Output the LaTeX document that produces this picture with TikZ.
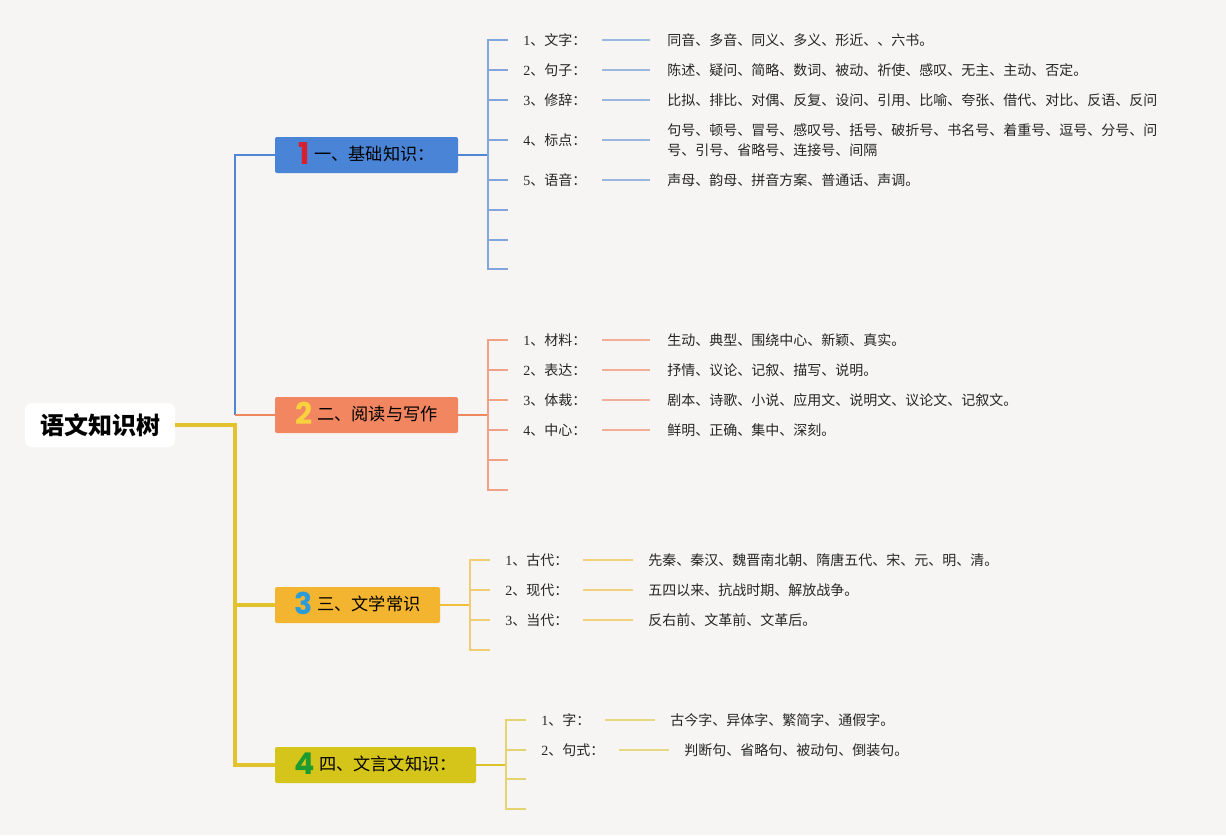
\documentclass[tikz,border=0pt]{standalone}
\usepackage{fontspec}
\setmainfont{Noto Sans CJK SC}
\newfontfamily\numfont{Liberation Serif}
\newfontfamily\bignum{Poppins}
\definecolor{bgc}{HTML}{F6F5F4}
\definecolor{boxA}{HTML}{4A84D6}
\definecolor{lineA}{HTML}{5087D5}
\definecolor{tickA}{HTML}{9BB7E0}
\definecolor{brkA}{HTML}{82A6DC}
\definecolor{boxB}{HTML}{F28660}
\definecolor{lineB}{HTML}{F0875E}
\definecolor{tickB}{HTML}{F3AE97}
\definecolor{brkB}{HTML}{F1A286}
\definecolor{boxC}{HTML}{F3B52F}
\definecolor{lineC}{HTML}{F2BE3C}
\definecolor{tickC}{HTML}{F3D27E}
\definecolor{brkC}{HTML}{F0CC72}
\definecolor{boxD}{HTML}{D5C41A}
\definecolor{lineD}{HTML}{D9C52A}
\definecolor{tickD}{HTML}{E9D882}
\definecolor{brkD}{HTML}{E5D270}
\definecolor{ymain}{HTML}{E2C22D}
\definecolor{numA}{HTML}{D71F2E}
\definecolor{numB}{HTML}{F7D23E}
\definecolor{numC}{HTML}{2C9BDA}
\definecolor{numD}{HTML}{1E9B2E}
\newcommand\mkrow[9]{%
  \node[lab] (l#1) at (#3,#2) {#4};
  \node[txt] (t#1) at (#7,#2) {#8};
  \coordinate (p#1) at (#5,#2);
  \coordinate (q#1) at (#6,#2);
  \draw[#9, line width=1.1pt] (p#1) -- (q#1);
}
\newcommand\dig[2]{\raisebox{-3pt}{\smash{\bignum\bfseries\fontsize{22.5pt}{22pt}\selectfont\color{#1}#2}}\hspace{3.5pt}}
\begin{document}
\begin{tikzpicture}[x=0.75pt,y=-0.75pt,
  rootbox/.style={fill=white, rounded corners=5pt, minimum width=112.5pt, minimum height=33pt, inner sep=0pt, font=\fontsize{18pt}{20pt}\selectfont\bfseries},
  branch/.style={rounded corners=1.5pt, minimum height=27pt, inner sep=0pt, font=\fontsize{12.9pt}{14pt}\selectfont},
  lab/.style={anchor=west, inner sep=0pt, font=\fontsize{10.5pt}{12pt}\selectfont, text=black!85},
  txt/.style={anchor=west, inner sep=0pt, align=left, font=\fontsize{10.5pt}{15pt}\selectfont, text=black!85},
  tk/.style={line width=1.1pt},
]
\fill[bgc] (0,0) rectangle (1226,835);
\useasboundingbox (0,0) rectangle (1226,835);

% root and branches
\node[rootbox] (root) at (100,425) {语文知识树};
\node[branch, fill=boxA, minimum width=137.25pt] (b1) at (366.5,155) {\dig{numA}{1}一、基础知识：};
\node[branch, fill=boxB, minimum width=137.25pt] (b2) at (366.5,415) {\dig{numB}{2}二、阅读与写作};
\node[branch, fill=boxC, minimum width=123.75pt] (b3) at (357.5,605) {\dig{numC}{3}三、文学常识};
\node[branch, fill=boxD, minimum width=150.75pt] (b4) at (375.5,765) {\dig{numD}{4}四、文言文知识：};

% main connectors
\coordinate (m) at (235,425);
\coordinate (m2) at (235,415);
\draw[lineA, line width=1.6pt] (m2) |- (b1.west);
\draw[lineB, line width=1.6pt] (m2) -- (b2.west);
\draw[ymain, line width=2.4pt] (root.east) -- (m) |- (b4.west);
\draw[ymain, line width=2.4pt] (m |- b3) -- (b3.west);

% ---------- section 1
\coordinate (j1) at (488,155);
\draw[lineA, line width=1.4pt] (b1.east) -- (j1);
\foreach \n/\yy in {1/40,2/70,3/100,4/140,5/180,6/210,7/240,8/269}
  \coordinate (k1\n) at (508,\yy);
\draw[brkA, tk] (k11) -| (j1 |- k18) -- (k18);
\foreach \n in {2,...,7} \draw[brkA, tk] (j1 |- k1\n) -- (k1\n);
\mkrow{11}{40}{523}{{\numfont 1}、文字：}{602}{650}{667}{同音、多音、同义、多义、形近、、六书。}{tickA}
\mkrow{12}{70}{523}{{\numfont 2}、句子：}{602}{650}{667}{陈述、疑问、简略、数词、被动、祈使、感叹、无主、主动、否定。}{tickA}
\mkrow{13}{100}{523}{{\numfont 3}、修辞：}{602}{650}{667}{比拟、排比、对偶、反复、设问、引用、比喻、夸张、借代、对比、反语、反问}{tickA}
\mkrow{14}{140}{523}{{\numfont 4}、标点：}{602}{650}{667}{句号、顿号、冒号、感叹号、括号、破折号、书名号、着重号、逗号、分号、问\\号、引号、省略号、连接号、间隔}{tickA}
\mkrow{15}{180}{523}{{\numfont 5}、语音：}{602}{650}{667}{声母、韵母、拼音方案、普通话、声调。}{tickA}

% ---------- section 2
\coordinate (j2) at (488,415);
\draw[lineB, line width=1.4pt] (b2.east) -- (j2);
\foreach \n/\yy in {1/340,2/370,3/400,4/430,5/460,6/490}
  \coordinate (k2\n) at (508,\yy);
\draw[brkB, tk] (k21) -| (j2 |- k26) -- (k26);
\foreach \n in {2,...,5} \draw[brkB, tk] (j2 |- k2\n) -- (k2\n);
\mkrow{21}{340}{523}{{\numfont 1}、材料：}{602}{650}{667}{生动、典型、围绕中心、新颖、真实。}{tickB}
\mkrow{22}{370}{523}{{\numfont 2}、表达：}{602}{650}{667}{抒情、议论、记叙、描写、说明。}{tickB}
\mkrow{23}{400}{523}{{\numfont 3}、体裁：}{602}{650}{667}{剧本、诗歌、小说、应用文、说明文、议论文、记叙文。}{tickB}
\mkrow{24}{430}{523}{{\numfont 4}、中心：}{602}{650}{667}{鲜明、正确、集中、深刻。}{tickB}

% ---------- section 3
\coordinate (j3) at (470,605);
\draw[lineC, line width=1.4pt] (b3.east) -- (j3);
\foreach \n/\yy in {1/560,2/590,3/620,4/650}
  \coordinate (k3\n) at (490,\yy);
\draw[brkC, tk] (k31) -| (j3 |- k34) -- (k34);
\foreach \n in {2,3} \draw[brkC, tk] (j3 |- k3\n) -- (k3\n);
\mkrow{31}{560}{505}{{\numfont 1}、古代：}{583}{633}{648}{先秦、秦汉、魏晋南北朝、隋唐五代、宋、元、明、清。}{tickC}
\mkrow{32}{590}{505}{{\numfont 2}、现代：}{583}{633}{648}{五四以来、抗战时期、解放战争。}{tickC}
\mkrow{33}{620}{505}{{\numfont 3}、当代：}{583}{633}{648}{反右前、文革前、文革后。}{tickC}

% ---------- section 4
\coordinate (j4) at (506,765);
\draw[lineD, line width=1.4pt] (b4.east) -- (j4);
\foreach \n/\yy in {1/720,2/750,3/779,4/809}
  \coordinate (k4\n) at (526,\yy);
\draw[brkD, tk] (k41) -| (j4 |- k44) -- (k44);
\foreach \n in {2,3} \draw[brkD, tk] (j4 |- k4\n) -- (k4\n);
\mkrow{41}{720}{541}{{\numfont 1}、字：}{605}{655}{670}{古今字、异体字、繁简字、通假字。}{tickD}
\mkrow{42}{750}{541}{{\numfont 2}、句式：}{619}{669}{684}{判断句、省略句、被动句、倒装句。}{tickD}
\end{tikzpicture}
\end{document}
